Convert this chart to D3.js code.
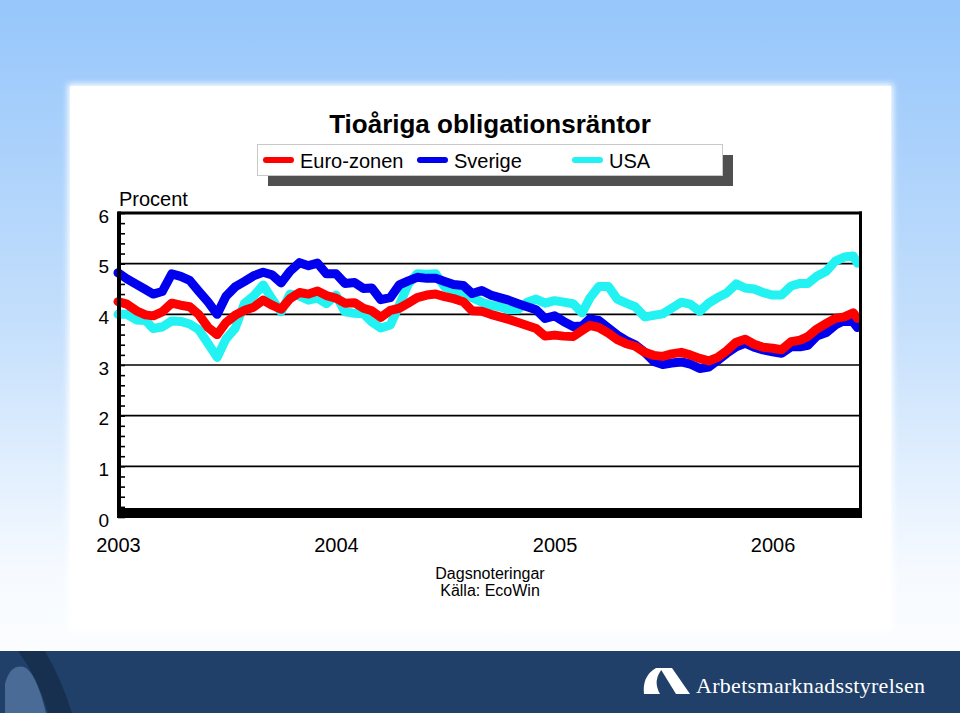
<!DOCTYPE html>
<html><head><meta charset="utf-8">
<script src="https://cdn.jsdelivr.net/npm/d3@7/dist/d3.min.js"></script>
<style>
html,body{margin:0;padding:0;background:#fff;}
svg{display:block;font-family:"Liberation Sans",Arial,sans-serif;}
</style></head>
<body>
<svg id="chart" width="960" height="716"></svg>
<script>
const title = "Tioåriga obligationsräntor";
const seriesNames = ["Euro-zonen", "Sverige", "USA"];
const yTicks = [0, 1, 2, 3, 4, 5, 6];
const yearLabels = ["2003", "2004", "2005", "2006"];
const dates = [
"2003-01-01","2003-01-16","2003-02-01","2003-02-16","2003-03-01","2003-03-16","2003-04-01","2003-04-16",
"2003-05-01","2003-05-16","2003-06-01","2003-06-16","2003-07-01","2003-07-16","2003-08-01","2003-08-16",
"2003-09-01","2003-09-16","2003-10-01","2003-10-16","2003-11-01","2003-11-16","2003-12-01","2003-12-16",
"2004-01-01","2004-01-16","2004-02-01","2004-02-16","2004-03-01","2004-03-16","2004-04-01","2004-04-16",
"2004-05-01","2004-05-16","2004-06-01","2004-06-16","2004-07-01","2004-07-16","2004-08-01","2004-08-16",
"2004-09-01","2004-09-16","2004-10-01","2004-10-16","2004-11-01","2004-11-16","2004-12-01","2004-12-16",
"2005-01-01","2005-01-16","2005-02-01","2005-02-16","2005-03-01","2005-03-16","2005-04-01","2005-04-16",
"2005-05-01","2005-05-16","2005-06-01","2005-06-16","2005-07-01","2005-07-16","2005-08-01","2005-08-16",
"2005-09-01","2005-09-16","2005-10-01","2005-10-16","2005-11-01","2005-11-16","2005-12-01","2005-12-16",
"2006-01-01","2006-01-16","2006-02-01","2006-02-16","2006-03-01","2006-03-16","2006-04-01","2006-04-16",
"2006-05-01","2006-05-16","2006-05-23"];
const euro = [4.25,4.20,4.07,3.99,3.97,4.05,4.22,4.18,4.15,4.00,3.74,3.60,3.84,3.98,4.08,4.14,
4.28,4.18,4.10,4.31,4.43,4.40,4.46,4.37,4.32,4.22,4.23,4.12,4.07,3.94,4.08,4.12,
4.22,4.33,4.38,4.40,4.35,4.31,4.25,4.07,4.06,4.00,3.95,3.90,3.84,3.78,3.72,3.57,
3.59,3.57,3.56,3.68,3.78,3.74,3.63,3.50,3.42,3.37,3.25,3.19,3.17,3.22,3.25,3.20,
3.13,3.08,3.15,3.28,3.45,3.51,3.41,3.35,3.33,3.30,3.46,3.49,3.56,3.71,3.82,3.92,
3.95,4.03,3.92];
const sverige = [4.82,4.70,4.59,4.49,4.40,4.45,4.80,4.75,4.67,4.46,4.24,4.00,4.36,4.54,4.65,4.76,
4.83,4.78,4.62,4.85,5.02,4.96,5.01,4.80,4.80,4.61,4.63,4.51,4.52,4.29,4.33,4.58,
4.66,4.73,4.71,4.71,4.65,4.59,4.57,4.41,4.47,4.38,4.33,4.28,4.21,4.15,4.09,3.92,
3.97,3.86,3.76,3.77,3.91,3.88,3.73,3.59,3.48,3.40,3.25,3.07,3.01,3.04,3.06,3.02,
2.93,2.96,3.09,3.23,3.36,3.43,3.35,3.30,3.26,3.23,3.36,3.36,3.39,3.57,3.64,3.79,
3.88,3.85,3.74];
const usa = [4.00,4.00,3.89,3.88,3.72,3.75,3.87,3.86,3.81,3.70,3.42,3.15,3.52,3.72,4.22,4.36,
4.58,4.30,4.05,4.40,4.36,4.28,4.32,4.21,4.38,4.05,4.02,4.01,3.85,3.73,3.79,4.18,
4.60,4.80,4.79,4.80,4.54,4.46,4.44,4.33,4.24,4.18,4.15,4.09,4.10,4.24,4.30,4.22,
4.27,4.24,4.21,4.03,4.32,4.55,4.55,4.30,4.22,4.15,3.95,3.98,4.01,4.12,4.24,4.20,
4.06,4.22,4.33,4.42,4.60,4.52,4.50,4.43,4.38,4.38,4.56,4.61,4.61,4.75,4.85,5.05,
5.13,5.15,5.01];
const colors = ["#ff0000", "#0000ee", "#22f2f2"];

const parse = d3.timeParse("%Y-%m-%d");
const svg = d3.select("#chart");
const defs = svg.append("defs");

// background gradient
const bg = defs.append("linearGradient").attr("id","bg").attr("x1",0).attr("y1",0).attr("x2",0).attr("y2",1);
bg.append("stop").attr("offset","0%").attr("stop-color","#96c6fb");
bg.append("stop").attr("offset","45%").attr("stop-color","#c4dffc");
bg.append("stop").attr("offset","80%").attr("stop-color","#f6faff");
bg.append("stop").attr("offset","100%").attr("stop-color","#ffffff");
svg.append("rect").attr("width",960).attr("height",716).attr("fill","url(#bg)");
const blur = defs.append("filter").attr("id","soft").attr("x","-5%").attr("y","-5%").attr("width","110%").attr("height","110%");
blur.append("feGaussianBlur").attr("stdDeviation",3);
svg.append("rect").attr("x",68).attr("y",84).attr("width",825).attr("height",548).attr("fill","#ffffff").attr("filter","url(#soft)");
svg.append("rect").attr("x",70).attr("y",86).attr("width",821).attr("height",544).attr("fill","#ffffff");

// bottom banner
svg.append("rect").attr("x",0).attr("y",651).attr("width",960).attr("height",62).attr("fill","#20406a");
svg.append("path").attr("d","M18,651 L45,651 Q62,680 72,713 L48,713 Q38,678 18,651 Z").attr("fill","#17304f");
svg.append("path").attr("d","M5,713 L5,684 Q10,664 24,667 Q36,672 46,713 Z").attr("fill","#4a6b95");
// logo
const logo = svg.append("g").attr("fill","#ffffff");
logo.append("path").attr("d","M644,694 Q642,676 656,668 L663,668 Q652,680 660,694 Z");
logo.append("path").attr("d","M660,668 L672,668 L690,694 L676,694 Z");
logo.append("text").attr("x",696).attr("y",693).attr("font-family","'Liberation Serif','DejaVu Serif',serif")
  .attr("font-size",22).attr("fill","#ffffff").attr("textLength",229).text("Arbetsmarknadsstyrelsen");

// scales
const x = d3.scaleTime().domain([parse("2003-01-01"), parse("2006-05-24")]).range([118, 858]);
const y = d3.scaleLinear().domain([0, 6]).range([517, 213]);

// plot area
const pl = 118, pr = 860, pt = 213;
svg.append("rect").attr("x",pl).attr("y",pt).attr("width",pr-pl).attr("height",y(0)-pt).attr("fill","#ffffff");

// gridlines
svg.append("g").selectAll("line").data(yTicks.filter(d=>d>0 && d<6)).join("line")
  .attr("x1",pl).attr("x2",pr).attr("y1",d=>y(d)).attr("y2",d=>y(d))
  .attr("stroke","#000").attr("stroke-width",1.6);

// minor ticks (inside)
const minor = d3.axisRight(y).tickValues(d3.range(0, 6.001, 0.2)).tickSize(7).tickFormat("");
const mg = svg.append("g").attr("transform",`translate(${pl},0)`).call(minor);
mg.select(".domain").remove();
mg.selectAll("line").attr("stroke","#000").attr("stroke-width",1.6);

// series lines (USA bottom, Sverige, Euro top)
const line = d3.line().x((d,i)=>x(parse(dates[i]))).y(d=>y(d)).curve(d3.curveLinear);
const order = [[usa,2],[sverige,1],[euro,0]];
svg.append("g").selectAll("path").data(order).join("path")
  .attr("d",d=>line(d[0])).attr("fill","none").attr("stroke",d=>colors[d[1]])
  .attr("stroke-width",9).attr("stroke-linejoin","round").attr("stroke-linecap","round");

// frame
svg.append("line").attr("x1",pl).attr("x2",pr+2).attr("y1",pt).attr("y2",pt).attr("stroke","#000").attr("stroke-width",3);
svg.append("line").attr("x1",pr+0.5).attr("x2",pr+0.5).attr("y1",pt-1.5).attr("y2",y(0)).attr("stroke","#000").attr("stroke-width",3);
svg.append("line").attr("x1",pl+1).attr("x2",pl+1).attr("y1",pt-1.5).attr("y2",y(0)+1).attr("stroke","#000").attr("stroke-width",4);
svg.append("rect").attr("x",pl-1).attr("y",y(0)-9).attr("width",pr-pl+3).attr("height",10).attr("fill","#000");

// y labels
const ya = d3.axisLeft(y).tickValues(yTicks).tickSize(0).tickPadding(8).tickFormat(d3.format("d"));
const yg = svg.append("g").attr("transform",`translate(${pl-1},3)`).call(ya);
yg.select(".domain").remove();
yg.selectAll("text").attr("font-size",19).attr("font-family","'Liberation Sans',Arial,sans-serif").attr("fill","#000");

// x labels
const years = yearLabels.map(s=>parse(s+"-01-01"));
const xa = d3.axisBottom(x).tickValues(years).tickSize(0).tickPadding(0).tickFormat(d3.timeFormat("%Y"));
const xg = svg.append("g").attr("transform",`translate(0,538)`).call(xa);
xg.select(".domain").remove();
xg.selectAll("text").attr("font-size",20).attr("font-family","'Liberation Sans',Arial,sans-serif").attr("fill","#000");

// texts
svg.append("text").attr("x",490).attr("y",133).attr("text-anchor","middle").attr("font-size",26)
  .attr("font-weight","bold").attr("fill","#000").text(title);
svg.append("text").attr("x",119).attr("y",206).attr("font-size",20).attr("fill","#000").text("Procent");
svg.append("text").attr("x",490).attr("y",579).attr("text-anchor","middle").attr("font-size",16).attr("fill","#000").text("Dagsnoteringar");
svg.append("text").attr("x",490).attr("y",596).attr("text-anchor","middle").attr("font-size",16).attr("fill","#000").text("Källa: EcoWin");

// legend
svg.append("rect").attr("x",268).attr("y",155).attr("width",465).attr("height",31).attr("fill","#505050");
svg.append("rect").attr("x",257.5).attr("y",144.5).attr("width",465).attr("height",31).attr("fill","#fff").attr("stroke","#c8c8c8");
const legX = [263, 417, 572];
const lg = svg.append("g").selectAll("g").data(seriesNames).join("g").attr("transform",(d,i)=>`translate(${legX[i]},160)`);
lg.append("line").attr("x1",3).attr("x2",28).attr("y1",0).attr("y2",0).attr("stroke",(d,i)=>colors[i])
  .attr("stroke-width",6).attr("stroke-linecap","round");
lg.append("text").attr("x",37).attr("y",8).attr("font-size",20).attr("fill","#000").text(d=>d);
</script>
</body></html>
